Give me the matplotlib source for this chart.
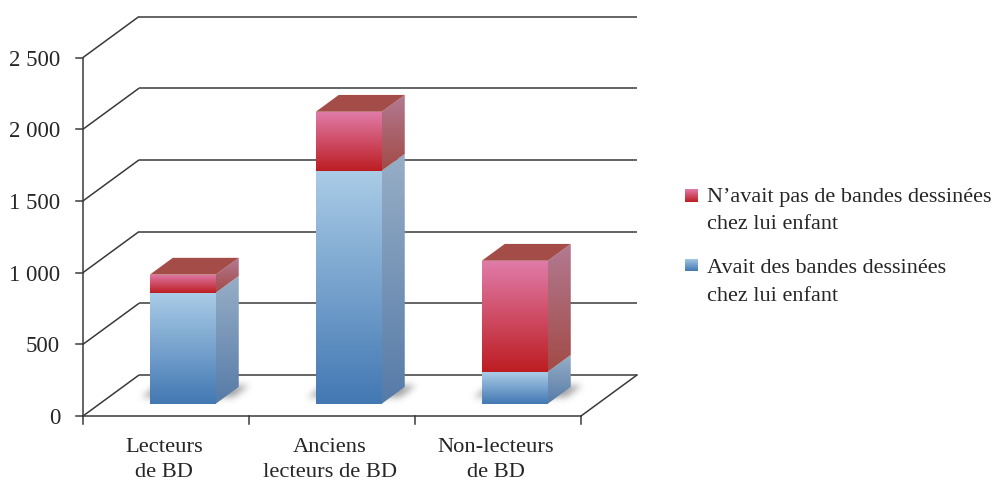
"""
Stacked 3D-look bars: comic ownership in childhood by reader category.
"""

import matplotlib

matplotlib.use("Agg")
import matplotlib.pyplot as plt
import numpy as np
from matplotlib.patches import Polygon

categories = ["Lecteurs\nde BD", "Anciens\nlecteurs de BD", "Non-lecteurs\nde BD"]
had_comics = [774, 1625, 223]
no_comics = [126, 411, 774]
y_ticks = [0, 500, 1000, 1500, 2000, 2500]
y_labels = ["0", "500", "1 000", "1 500", "2 000", "2 500"]
legend_labels = ["N’avait pas de bandes dessinées\nchez lui enfant", "Avait des bandes dessinées\nchez lui enfant"]

W, H = 993, 481
PX_X = 166.0  # pixels per category
PX_Y = 0.1434  # pixels per value unit
X0_PX, Y0_PX = 83, 417

# oblique projection, in data units per unit of depth
DEPTH_X = 56 / PX_X
DEPTH_Y = 41 / PX_Y
BAR_W = 66 / PX_X
BAR_D0, BAR_D1 = 0.30, 0.71

BLUE = ("#AACCE7", "#4378B3")
BLUE_SIDE = ("#97AEC6", "#567BA8")
RED = ("#E07BA8", "#BD1D22")
RED_SIDE = ("#B27A92", "#A24A45")
TOP = "#A44D48"
LINE = "#3A3A3A"
TEXT = "#262626"

plt.rcParams["font.family"] = ["Liberation Serif", "DejaVu Serif"]


def project(x, v, d):
    return x + d * DEPTH_X, v + d * DEPTH_Y


def gradient_face(ax, pts, colors, zorder):
    """Fill a polygon with a vertical gradient, clipped from an image."""
    pts = np.array(pts)
    c0 = np.array(matplotlib.colors.to_rgb(colors[0]))
    c1 = np.array(matplotlib.colors.to_rgb(colors[1]))
    t = np.linspace(0, 1, 128)[:, None, None]
    img = c0[None, None, :] * (1 - t) + c1[None, None, :] * t
    extent = (pts[:, 0].min(), pts[:, 0].max(), pts[:, 1].min(), pts[:, 1].max())
    im = ax.imshow(img, extent=extent, aspect="auto", origin="upper", zorder=zorder, interpolation="bilinear")
    clip = Polygon(pts, closed=True, transform=ax.transData, facecolor="none", edgecolor="none")
    ax.add_patch(clip)
    im.set_clip_path(clip)


def draw_segment(ax, x, v0, v1, front, side, zorder):
    x0, x1 = x - BAR_W / 2, x + BAR_W / 2
    gradient_face(ax, [project(x0, v0, BAR_D0), project(x1, v0, BAR_D0), project(x1, v1, BAR_D0), project(x0, v1, BAR_D0)], front, zorder + 1)
    gradient_face(ax, [project(x1, v0, BAR_D0), project(x1, v0, BAR_D1), project(x1, v1, BAR_D1), project(x1, v1, BAR_D0)], side, zorder)


def draw_shadow(ax, x):
    """Soft contact shadow: the bar footprint on the floor, widened and blurred."""
    x0, x1 = x - BAR_W / 2, x + BAR_W / 2
    pad = 30
    xs = np.arange(x0 - pad / PX_X, x1 + (pad + 30) / PX_X, 1 / PX_X)
    vs = np.arange(0, 80 / PX_Y, 1 / PX_Y)
    gx, gv = np.meshgrid(xs, vs)
    depth = gv / DEPTH_Y
    floor_x = gx - depth * DEPTH_X
    mask = (
        (floor_x >= x0 - 17 / PX_X)
        & (floor_x <= x1 + 9 / PX_X)
        & (depth >= BAR_D0 + 0.14)
        & (depth <= BAR_D1 + 0.03)
    )

    kernel = np.exp(-0.5 * (np.arange(-12, 13) / 3.5) ** 2)
    kernel /= kernel.sum()
    alpha = np.apply_along_axis(np.convolve, 0, mask.astype(float), kernel, mode="same")
    alpha = np.apply_along_axis(np.convolve, 1, alpha, kernel, mode="same")

    img = np.zeros(alpha.shape + (4,))
    img[..., :3] = matplotlib.colors.to_rgb("#404040")
    img[..., 3] = alpha * 0.5
    ax.imshow(img, extent=(xs[0], xs[-1], vs[0], vs[-1]), aspect="auto", origin="lower", zorder=3, interpolation="bilinear")


def main():
    fig = plt.figure(figsize=(W / 100, H / 100), dpi=100)
    ax = fig.add_axes([0, 0, 1, 1])
    ax.axis("off")
    xlim = (-X0_PX / PX_X, (W - X0_PX) / PX_X)
    ylim = (-(H - Y0_PX) / PX_Y, Y0_PX / PX_Y)

    # walls and floor
    n = len(categories)
    for v, label in zip(y_ticks, y_labels):
        bx, by = project(0, v, 1)
        ax.plot([0, bx], [v, by], color=LINE, lw=1.1, zorder=1, solid_capstyle="butt")
        ax.plot([bx, project(n, v, 1)[0]], [by, by], color=LINE, lw=1.1, zorder=1, solid_capstyle="butt")
        ax.plot([-7 / PX_X, 0], [v, v], color=LINE, lw=1.1, zorder=1)
        ax.text(-23 / PX_X, v - 1.5 / PX_Y, label, ha="right", va="center", fontsize=16.5, color=TEXT)
    ax.plot([0, 0], [0, y_ticks[-1]], color=LINE, lw=1.1, zorder=1)
    ax.plot([0, n], [0, 0], color=LINE, lw=1.1, zorder=1)
    ax.plot([n, n + DEPTH_X], [0, DEPTH_Y], color=LINE, lw=1.1, zorder=1)
    for i in range(n + 1):
        ax.plot([i, i], [0, -8 / PX_Y], color=LINE, lw=1.1, zorder=1)

    # stacked bars
    for i in range(n):
        x = i + 0.5
        total = had_comics[i] + no_comics[i]
        draw_shadow(ax, x)
        draw_segment(ax, x, 0, had_comics[i], BLUE, BLUE_SIDE, 5)
        draw_segment(ax, x, had_comics[i], total, RED, RED_SIDE, 5)
        x0, x1 = x - BAR_W / 2, x + BAR_W / 2
        top = [project(x0, total, BAR_D0), project(x1, total, BAR_D0), project(x1, total, BAR_D1), project(x0, total, BAR_D1)]
        ax.add_patch(Polygon(top, closed=True, facecolor=TOP, edgecolor="none", zorder=7))
        ax.text(x - 2 / PX_X, -21 / PX_Y, categories[i], ha="center", va="top", fontsize=16.2, color=TEXT, linespacing=1.4)

    # legend
    swatch_y = [196.5, 266]
    text_y = [211, 282.5]
    for sy, ty, label, colors in zip(swatch_y, text_y, legend_labels, [RED, BLUE]):
        sx0 = (685 - X0_PX) / PX_X
        sx1 = (698 - X0_PX) / PX_X
        v_mid = (Y0_PX - sy) / PX_Y
        half = 6.5 / PX_Y
        gradient_face(ax, [(sx0, v_mid - half), (sx1, v_mid - half), (sx1, v_mid + half), (sx0, v_mid + half)], colors, 5)
        ax.text((707 - X0_PX) / PX_X, (Y0_PX - ty) / PX_Y, label, ha="left", va="center", fontsize=16, color=TEXT, linespacing=1.58)

    ax.set_xlim(xlim)
    ax.set_ylim(ylim)
    fig.savefig("out.png", dpi=100, facecolor="white")


if __name__ == "__main__":
    main()
